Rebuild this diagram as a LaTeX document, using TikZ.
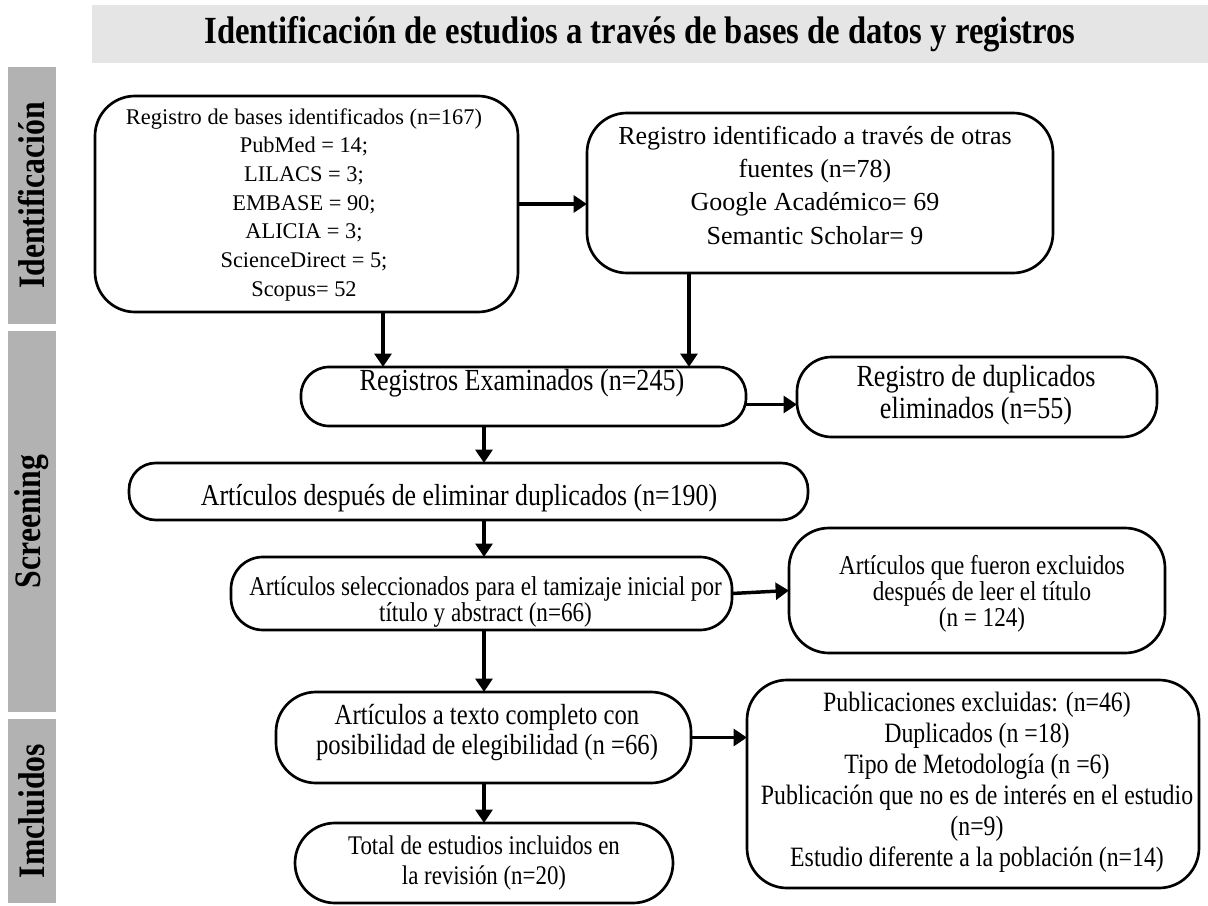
\documentclass[tikz,border=0pt]{standalone}
\usepackage{fontspec}
\setmainfont{Liberation Serif}
\newfontfamily\condfont{Liberation Serif}[FakeStretch=0.85]
\usetikzlibrary{arrows.meta}
\newcommand\fsz[2]{\fontsize{#1pt}{#2pt}\selectfont}
\begin{document}
\begin{tikzpicture}[x=0.75pt,y=-0.75pt,
  box/.style={draw, line width=2pt, inner sep=0pt, outer sep=0pt},
  txt/.style={align=center, inner sep=0pt},
  arr/.style={line width=2.6pt, -{Triangle[length=10pt,width=12.5pt]}},
  lab/.style={fill=black!30, rotate=90, inner sep=0pt, font=\condfont\bfseries\fsz{28}{32}, minimum height=36pt}]
\useasboundingbox (0,0) rectangle (1208,906);
% title
\node[fill=black!10, inner sep=0pt, minimum width=837pt, minimum height=43.5pt] (bar) at (650,34) {};
\node[font=\condfont\bfseries\fsz{28.8}{32}, inner sep=0pt] (title) at (640,34) {Identificación de estudios a través de bases de datos y registros};
% side labels
\node[lab, minimum width=192.75pt] (L1) at (32,195.5) {Identificación};
\node[lab, minimum width=285.75pt] (L2) at (32,521.5) {Screening};
\node[lab, minimum width=138pt] (L3) at (32,811) {Imcluidos};
% boxes
\node[box, minimum width=317.25pt, minimum height=162pt, rounded corners=30pt] (A) at (306.5,204) {};
\node[box, minimum width=349.5pt, minimum height=120pt, rounded corners=30pt] (B) at (820,193) {};
\node[box, minimum width=333.75pt, minimum height=44.25pt, rounded corners=21pt] (C) at (523.5,396.5) {};
\node[box, minimum width=270pt, minimum height=60pt, rounded corners=26pt] (D) at (977,397) {};
\node[box, minimum width=509.25pt, minimum height=42.75pt, rounded corners=20pt] (E) at (468.5,491.5) {};
\node[box, minimum width=375.75pt, minimum height=54.75pt, rounded corners=24pt] (F) at (481.5,593.5) {};
\node[box, minimum width=282pt, minimum height=93.75pt, rounded corners=30pt] (G) at (977,590.5) {};
\node[box, minimum width=311.25pt, minimum height=68.25pt, rounded corners=30pt] (H) at (483.5,737.5) {};
\node[box, minimum width=339pt, minimum height=156pt, rounded corners=30pt] (I) at (973,784) {};
\node[box, minimum width=283.5pt, minimum height=60pt, rounded corners=30pt] (J) at (484,863) {};
% texts
\node[txt, font=\fsz{16.8}{21.5}] (At) at (304,204.5) {Registro de bases identificados (n=167)\\PubMed = 14;\\LILACS = 3;\\EMBASE = 90;\\ALICIA = 3;\\ScienceDirect = 5;\\Scopus= 52};
\node[txt, font=\fsz{19.5}{25}] (Bt) at (815,185) {Registro identificado a través de otras\\fuentes (n=78)\\Google Académico= 69\\Semantic Scholar= 9};
\node[txt, font=\condfont\fsz{23}{26}] (Ct) at (522,383) {Registros Examinados (n=245)};
\node[txt, font=\condfont\fsz{23}{23.5}] (Dt) at (976,395) {Registro de duplicados\\eliminados (n=55)};
\node[txt, font=\condfont\fsz{22.8}{26}] (Et) at (459,498) {Artículos después de eliminar duplicados (n=190)};
\node[txt, font=\condfont\fsz{20.4}{19.5}] (Ft) at (485.5,602) {Artículos seleccionados para el tamizaje inicial por\\título y abstract (n=66)};
\node[txt, font=\condfont\fsz{20.4}{19.5}] (Gt) at (982,594) {Artículos que fueron excluidos\\después de leer el título\\(n = 124)};
\node[txt, font=\condfont\fsz{21.8}{22.5}] (Ht) at (487,733) {Artículos a texto completo con\\posibilidad de elegibilidad (n =66)};
\node[txt, font=\condfont\fsz{21}{23.25}] (It) at (977,782.5) {Publicaciones excluidas: (n=46)\\Duplicados (n =18)\\Tipo de Metodología (n =6)\\Publicación que no es de interés en el estudio\\(n=9)\\Estudio diferente a la población (n=14)};
\node[txt, font=\condfont\fsz{20.2}{22.5}] (Jt) at (484,863) {Total de estudios incluidos en\\la revisión (n=20)};
% columns for vertical arrows
\coordinate (colA) at (383,0);
\coordinate (colB) at (689,0);
\coordinate (col) at (484,0);
% arrows
\draw[arr] (A.east) -- (A.east -| B.west);
\draw[arr] (A.south -| colA) -- (C.north -| colA);
\draw[arr] (B.south -| colB) -- (C.north -| colB);
\draw[arr] ([yshift=-6pt]C.east) -- ([yshift=-6pt]C.east -| D.west);
\draw[arr] (C.south -| col) -- (E.north -| col);
\draw[arr] (E.south -| col) -- (F.north -| col);
\draw[arr] (F.east) -- (G.west);
\draw[arr] (F.south -| col) -- (H.north -| col);
\draw[arr] (H.east) -- (H.east -| I.west);
\draw[arr] (H.south -| col) -- (J.north -| col);
\end{tikzpicture}
\end{document}
